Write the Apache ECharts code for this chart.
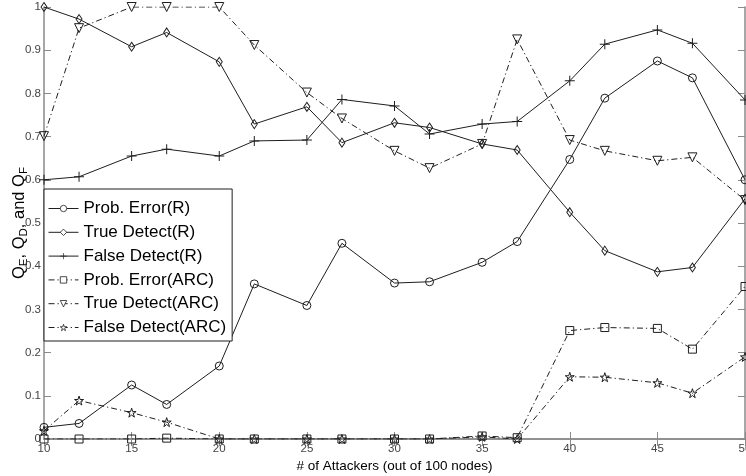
<!DOCTYPE html>
<html>
<head>
<meta charset="utf-8">
<script src="https://cdn.jsdelivr.net/npm/echarts@6/dist/echarts.min.js"></script>
<style>
  html, body { margin: 0; padding: 0; background: #fff; }
  #chart { width: 746px; height: 476px; }
</style>
</head>
<body>
<div id="chart"></div>
<script>
// Number of attackers (out of 100 nodes)
const attackers = [10, 12, 15, 17, 20, 22, 25, 27, 30, 32, 35, 37, 40, 42, 45, 47, 50];

// Scheme R
const probErrorR   = [0.027, 0.036, 0.125, 0.080, 0.169, 0.359, 0.309, 0.453, 0.361, 0.364, 0.409, 0.457, 0.647, 0.789, 0.875, 0.836, 0.600];
const trueDetectR  = [1.000, 0.972, 0.908, 0.941, 0.873, 0.729, 0.769, 0.686, 0.732, 0.721, 0.683, 0.669, 0.525, 0.436, 0.387, 0.397, 0.556];
const falseDetectR = [0.600, 0.607, 0.655, 0.671, 0.655, 0.690, 0.692, 0.786, 0.771, 0.706, 0.729, 0.735, 0.829, 0.914, 0.947, 0.916, 0.785];

// Scheme ARC
const probErrorARC   = [0.000, 0.000, 0.000, 0.002, 0.000, 0.000, 0.000, 0.000, 0.000, 0.000, 0.007, 0.003, 0.251, 0.258, 0.256, 0.208, 0.353];
const trueDetectARC  = [0.701, 0.951, 1.000, 1.000, 1.000, 0.912, 0.802, 0.742, 0.667, 0.627, 0.683, 0.925, 0.692, 0.667, 0.644, 0.652, 0.553];
const falseDetectARC = [0.019, 0.089, 0.061, 0.039, 0.000, 0.000, 0.000, 0.000, 0.000, 0.000, 0.005, 0.000, 0.144, 0.143, 0.130, 0.106, 0.190];

const seriesNames = [
  'Prob. Error(R)', 'True Detect(R)', 'False Detect(R)',
  'Prob. Error(ARC)', 'True Detect(ARC)', 'False Detect(ARC)'
];

const FONT = 'Liberation Sans, Arial, Helvetica, sans-serif';
const INK = '#1e1e1e';
const AXIS = '#8a8a8a';
const DASH_DOT = [6, 3, 1.2, 3];

const PLUS = 'path://M4.5,0h1v4.5h4.5v1h-4.5v4.5h-1v-4.5h-4.5v-1h4.5z';
const STAR = 'path://M5,0L6.18,3.62L10,3.62L6.91,5.85L8.09,9.47L5,7.24L1.91,9.47L3.09,5.85L0,3.62L3.82,3.62Z';

const HOLLOW = { color: 'rgba(255,255,255,0)', borderColor: INK, borderWidth: 1 };
const SOLID = { color: INK, borderColor: INK, borderWidth: 0 };

function pairs(values) {
  return attackers.map((x, i) => [x, values[i]]);
}

function makeSeries(name, values, symbol, size, dashed, opts) {
  return Object.assign({
    name: name,
    type: 'line',
    data: pairs(values),
    symbol: symbol,
    symbolSize: size,
    showAllSymbol: true,
    animation: false,
    lineStyle: { color: INK, width: 1, type: dashed ? DASH_DOT : 'solid' },
    itemStyle: symbol === PLUS ? SOLID : HOLLOW,
    emphasis: { disabled: true }
  }, opts || {});
}

// legend entries mirror the series styles with thin strokes
function legendItem(name, dashed, filled) {
  return {
    name: name,
    itemStyle: filled
      ? { color: INK, borderWidth: 0 }
      : { color: '#fff', borderColor: INK, borderWidth: 0.8 },
    lineStyle: { color: INK, width: 1, type: dashed ? DASH_DOT : 'solid' }
  };
}

const chart = echarts.init(document.getElementById('chart'), null, { renderer: 'canvas' });

chart.setOption({
  backgroundColor: '#fff',
  animation: false,
  grid: { left: 44, right: 1, top: 7, bottom: 37, containLabel: false, outerBoundsMode: 'none' },
  legend: {
    orient: 'vertical',
    left: 44,
    top: 189,
    padding: [11, 6, 5, 4],
    itemGap: 6.8,
    itemWidth: 30,
    itemHeight: 8,
    backgroundColor: '#fff',
    borderColor: INK,
    borderWidth: 1,
    borderRadius: 0,
    selectedMode: false,
    textStyle: { fontFamily: FONT, fontSize: 17, color: '#000' },
    data: [
      legendItem(seriesNames[0], false, false),
      legendItem(seriesNames[1], false, false),
      legendItem(seriesNames[2], false, true),
      legendItem(seriesNames[3], true, false),
      legendItem(seriesNames[4], true, false),
      legendItem(seriesNames[5], true, false)
    ]
  },
  xAxis: [
    {
      type: 'value',
      min: 10, max: 50, interval: 5,
      name: '# of Attackers (out of 100 nodes)',
      nameLocation: 'middle',
      nameGap: 20,
      nameMoveOverlap: false,
      nameTextStyle: { fontFamily: FONT, fontSize: 13.5, color: '#000' },
      axisLine: { show: true, lineStyle: { color: AXIS, width: 1.5 } },
      axisTick: { show: true, inside: true, length: 7, lineStyle: { color: AXIS, width: 1 } },
      axisLabel: { fontFamily: FONT, fontSize: 11.5, color: '#444', margin: 4 },
      splitLine: { show: false }
    },
    {
      type: 'value',
      position: 'top',
      min: 10, max: 50, interval: 5,
      axisLine: { show: true, lineStyle: { color: AXIS, width: 1.5 } },
      axisTick: { show: true, inside: true, length: 7, lineStyle: { color: AXIS, width: 1 } },
      axisLabel: { show: false },
      splitLine: { show: false }
    }
  ],
  yAxis: [
    {
      type: 'value',
      min: 0, max: 1, interval: 0.1,
      name: '{q|Q}{s|E}{q|, Q}{s|D}{q|, and Q}{s|F}',
      nameLocation: 'middle',
      nameGap: 14,
      nameMoveOverlap: false,
      nameRotate: 90,
      nameTextStyle: {
        fontFamily: FONT,
        color: '#000',
        rich: {
          q: { fontFamily: FONT, fontSize: 16.5, color: '#000', lineHeight: 22, verticalAlign: 'middle' },
          s: { fontFamily: FONT, fontSize: 11.5, color: '#000', lineHeight: 11, verticalAlign: 'bottom' }
        }
      },
      axisLine: { show: true, lineStyle: { color: AXIS, width: 1.5 } },
      axisTick: { show: true, inside: true, length: 7, lineStyle: { color: AXIS, width: 1 } },
      axisLabel: { fontFamily: FONT, fontSize: 11.5, color: '#444', margin: 3 },
      splitLine: { show: false }
    },
    {
      type: 'value',
      position: 'right',
      min: 0, max: 1, interval: 0.1,
      axisLine: { show: true, lineStyle: { color: AXIS, width: 1.5 } },
      axisTick: { show: true, inside: true, length: 7, lineStyle: { color: AXIS, width: 1 } },
      axisLabel: { show: false },
      splitLine: { show: false }
    }
  ],
  series: [
    makeSeries(seriesNames[0], probErrorR, 'circle', 8, false),
    makeSeries(seriesNames[1], trueDetectR, 'diamond', [6, 9], false),
    makeSeries(seriesNames[2], falseDetectR, PLUS, 10, false),
    makeSeries(seriesNames[3], probErrorARC, 'rect', 8, true),
    makeSeries(seriesNames[4], trueDetectARC, 'triangle', 9, true, { symbolRotate: 180 }),
    makeSeries(seriesNames[5], falseDetectARC, STAR, 9, true)
  ]
});
</script>
</body>
</html>
